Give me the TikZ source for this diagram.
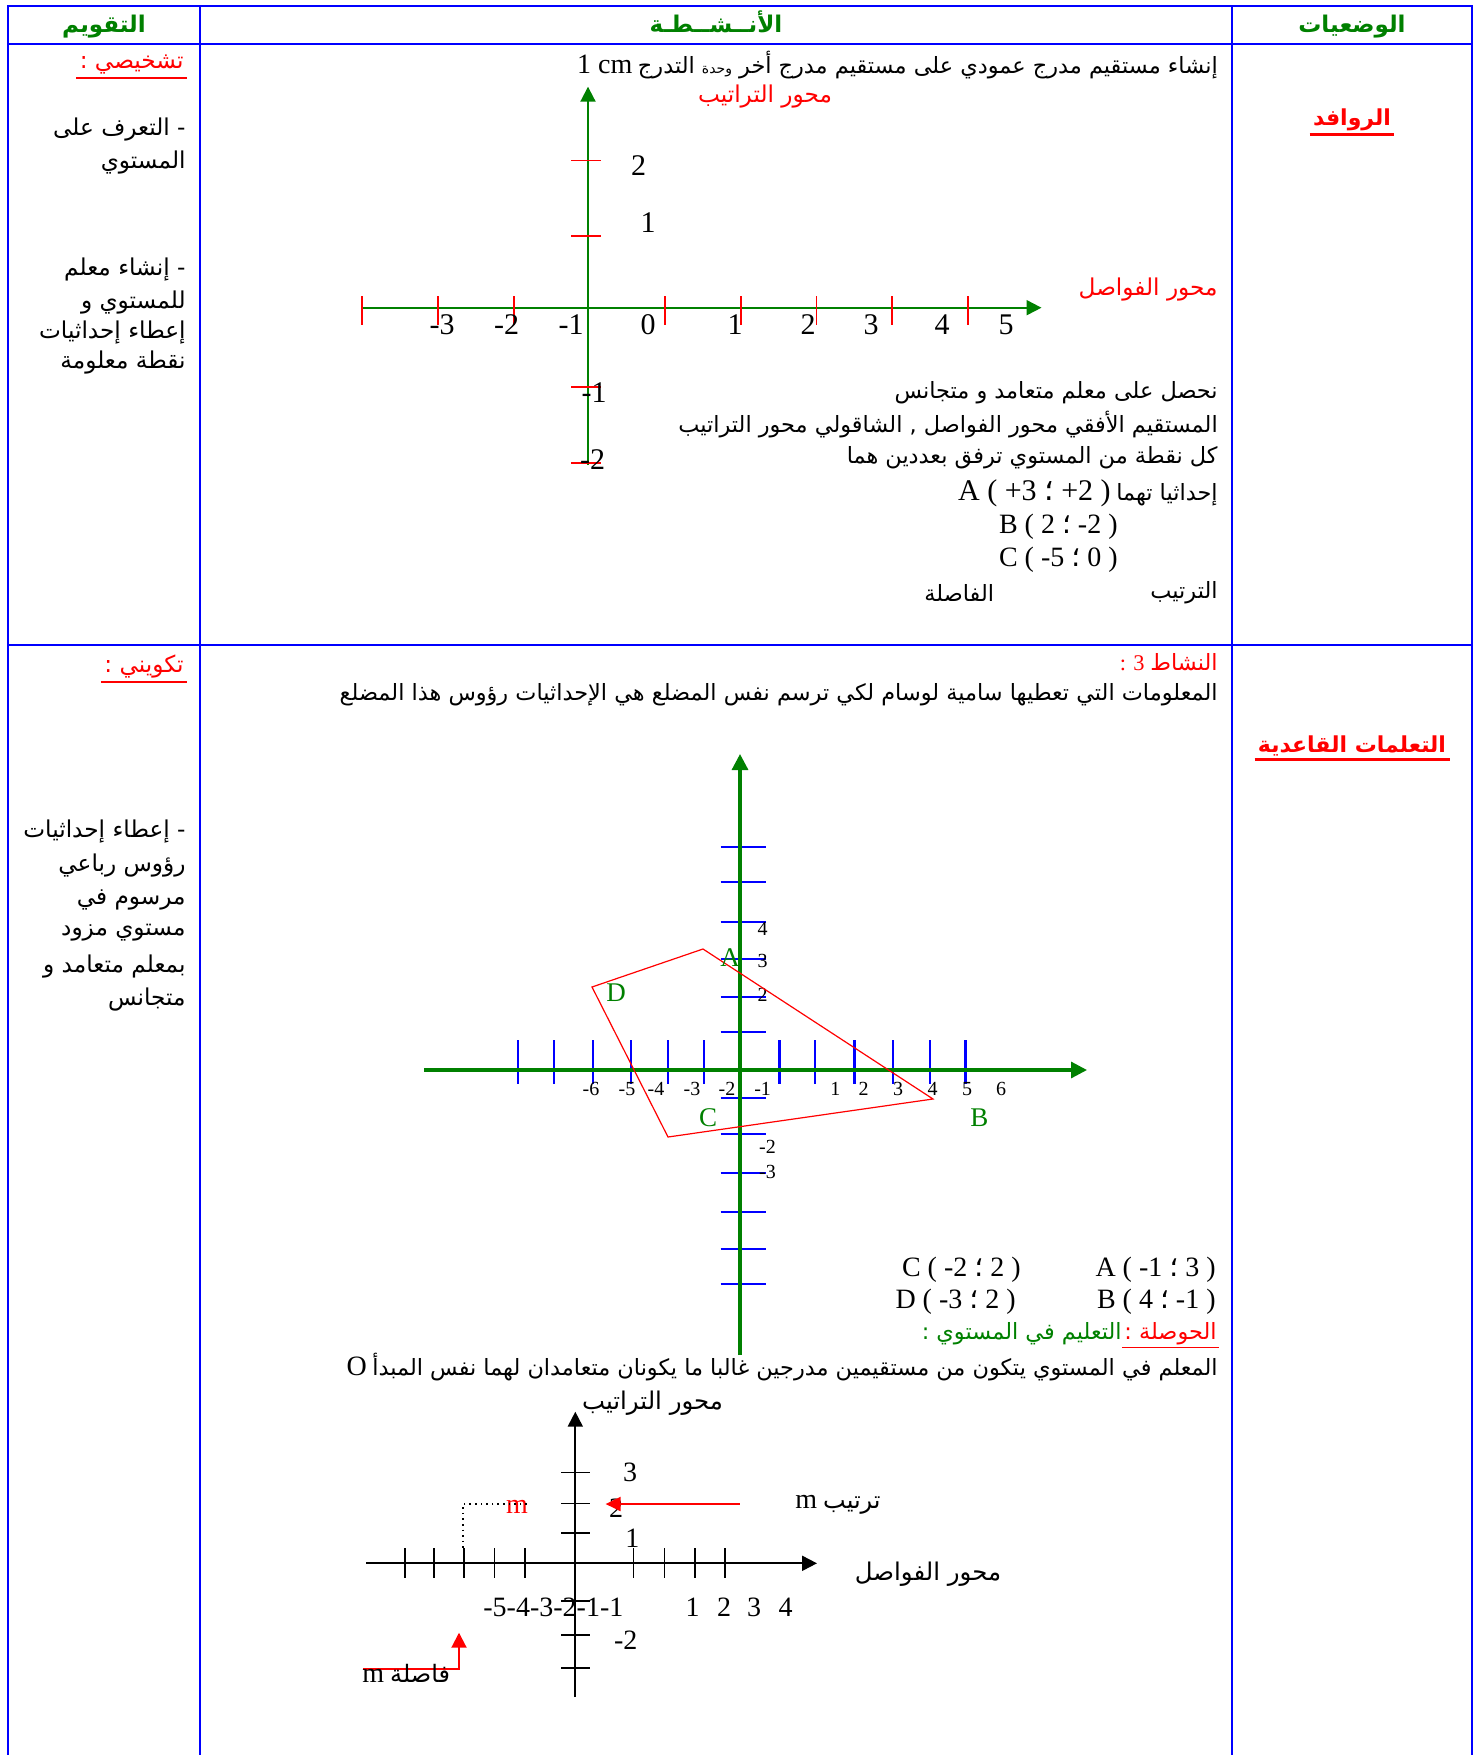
\documentclass[tikz,border=0pt]{standalone}
\usepackage{fontspec}
\setmainfont{Liberation Serif}
\newfontfamily\arabicfont[Script=Arabic]{DejaVu Sans}
\TeXXeTstate=1
\usepackage{tikz}
\usetikzlibrary{arrows.meta}
\definecolor{hdgreen}{RGB}{0,128,0}
\newcommand\artxt[1]{{\arabicfont\beginR #1\endR}}
\newcommand\semi{{\arabicfont ؛}}
\tikzset{
  grid/.style={draw=blue, line width=1pt},
  head/.style={font=\bfseries\fontsize{11.5}{14}\selectfont, text=hdgreen, inner sep=0pt},
  rline/.style={font=\fontsize{11.2}{14}\selectfont, anchor=east, inner sep=0pt},
  lline/.style={rline, anchor=west},
  lcol/.style={rline, font=\fontsize{11.6}{14}\selectfont},
  redttl/.style={font=\bfseries\fontsize{11}{14}\selectfont, text=red, inner sep=1.5pt},
  ul/.style={red, line width=0.8pt},
  numa/.style={font=\fontsize{15}{18}\selectfont, inner sep=0pt},
  numb/.style={font=\fontsize{10}{12}\selectfont, inner sep=0pt},
  numc/.style={font=\fontsize{14}{16}\selectfont, inner sep=0pt},
  pt/.style={font=\fontsize{13.5}{16}\selectfont, text=hdgreen, inner sep=0pt},
  gaxis/.style={hdgreen, line width=1pt, -{Triangle[length=7.5pt,width=7.5pt]}},
  gaxisb/.style={hdgreen, line width=1.6pt, -{Triangle[length=8pt,width=8pt]}},
  kaxis/.style={black, line width=1pt, -{Triangle[length=7.5pt,width=7.5pt]}},
  rtick/.style={red, line width=0.7pt},
  btick/.style={blue, line width=1.1pt},
  ktick/.style={black, line width=0.8pt}
}
\begin{document}
\begin{tikzpicture}[x=0.5pt, y=-0.5pt]
\useasboundingbox (0,0) rectangle (1482,1755);

% table
\draw[grid] (7.5,1755) -- (7.5,6) -- (1472,6) -- (1472,1755);
\draw[grid] (7.5,44.5) -- (1472,44.5);
\draw[grid] (7.5,644.5) -- (1472,644.5);
\draw[grid] (199.5,6) -- (199.5,1755);
\draw[grid] (1232,6) -- (1232,1755);

\node[head] (taqwim) at (104,27) {\artxt{التقويم}};
\node[head] (anshita) at (716,22) {\artxt{الأنــشــطـة}};
\node[head] (wadiyat) at (1352,27) {\artxt{الوضعيات}};

% left column
\node[lcol, text=red, inner sep=1.5pt] (tashkhis) at (187,65) {\artxt{تشخيصي :}};
\draw[ul] (tashkhis.south west) -- (tashkhis.south east);
\node[lcol] (l1) at (186,130) {\artxt{- التعرف على}};
\node[lcol] (l2) at (186,163) {\artxt{المستوي}};
\node[lcol] (l3) at (186,270) {\artxt{- إنشاء معلم}};
\node[lcol] (l4) at (186,303) {\artxt{للمستوي و}};
\node[lcol] (l5) at (186,333) {\artxt{إعطاء إحداثيات}};
\node[lcol] (l6) at (186,363) {\artxt{نقطة معلومة}};

\node[lcol, text=red, inner sep=1.5pt] (takwini) at (187,667) {\artxt{تكويني :}};
\draw[ul] (takwini.south west) -- (takwini.south east);
\node[lcol] (m1) at (186,832) {\artxt{- إعطاء إحداثيات}};
\node[lcol] (m2) at (186,866) {\artxt{رؤوس رباعي}};
\node[lcol] (m3) at (186,900) {\artxt{مرسوم في}};
\node[lcol] (m4) at (186,933) {\artxt{مستوي مزود}};
\node[lcol] (m5) at (186,967) {\artxt{بمعلم متعامد و}};
\node[lcol] (m6) at (186,1000) {\artxt{متجانس}};

% right column
\node[redttl] (rawafid) at (1352,120) {\artxt{الروافد}};
\draw[ul, line width=1.5pt] (rawafid.south west) -- (rawafid.south east);
\node[redttl] (taalumat) at (1352,746) {\artxt{التعلمات القاعدية}};
\draw[ul, line width=1.5pt] (taalumat.south west) -- (taalumat.south east);

% row 1 : first frame
\node[rline] (t1) at (1218,65) {{\fontsize{14}{16}\selectfont 1 cm} \artxt{إنشاء مستقيم مدرج عمودي على مستقيم مدرج أخر {\fontsize{7}{8}\selectfont وحدة} التدرج}};
\coordinate (g1l) at (362,307.7);
\coordinate (g1r) at (1041.5,307.7);
\coordinate (g1b) at (588,465);
\coordinate (g1t) at (588,86.7);
\draw[gaxis] (g1l) -- (g1r);
\draw[gaxis] (g1b) -- (g1t);
\foreach \x in {362,438,514,665,741,816.5,892,968}
  \draw[rtick] (\x,296) -- (\x,325);
\foreach \y in {160.7,236,387,463}
  \draw[rtick] (571,\y) -- (601,\y);
\foreach \x/\l [count=\i] in {442/-3,506.5/-2,571/-1,648/0,735/1,808/2,871/3,942/4,1006/5}
  \node[numa] (ga\i) at (\x,325) {\l};
\node[numa] (gy1) at (638.5,166) {2};
\node[numa] (gy2) at (648,223) {1};
\node[numa] (gy3) at (594,393) {-1};
\node[numa] (gy4) at (592.6,460) {-2};
\node[lcol, anchor=center, text=red] (mtr1) at (765,97) {\artxt{محور التراتيب}};
\node[lcol, text=red] (mfw1) at (1218,290) {\artxt{محور الفواصل}};

\node[rline] (t2) at (1218,393) {\artxt{نحصل على معلم متعامد و متجانس}};
\node[rline] (t3) at (1218,425) {\artxt{المستقيم الأفقي محور الفواصل , الشاقولي محور التراتيب}};
\node[rline] (t4) at (1218,458) {\artxt{كل نقطة من المستوي ترفق بعددين هما}};
\node[rline] (t5) at (1218,493) {{\fontsize{15}{18}\selectfont A ( +3 \semi{} +2 )} \artxt{إحداثيا تهما}};
\node[numc, anchor=east] (t6) at (1118,527) {B ( 2 \semi{} -2 )};
\node[numc, anchor=east] (t7) at (1118,560) {C ( -5 \semi{} 0 )};
\node[rline] (t8) at (1218,593) {\artxt{الترتيب}};
\node[rline] (t9) at (994.5,593) {\artxt{الفاصلة}};

% row 2 : second frame
\node[rline, text=red] (nashat) at (1218,662) {: 3 \artxt{النشاط}};
\node[rline] (s1) at (1218,695) {\artxt{المعلومات التي تعطيها سامية لوسام لكي ترسم نفس المضلع هي الإحداثيات رؤوس هذا المضلع}};
\coordinate (g2l) at (424,1070);
\coordinate (g2r) at (1087,1070);
\coordinate (g2b) at (740,1355);
\coordinate (g2t) at (740,754);
\foreach \x in {518,553.6,593,630.8,668,704,779.5,815,854.5,892.7,930,965.5}
  \draw[btick] (\x,1040) -- (\x,1084);
\foreach \y in {846.7,882,921.7,959,996.7,1032,1098,1134,1173,1212,1249,1284}
  \draw[btick] (720.5,\y) -- (765.6,\y);
\draw[gaxisb] (g2l) -- (g2r);
\draw[gaxisb] (g2b) -- (g2t);
\foreach \x/\l [count=\i] in {591/-6,627/-5,656/-4,692/-3,727/-2,762.6/-1,835.4/1,863.6/2,898/3,932.6/4,967/5,1001/6}
  \node[numb] (gb\i) at (\x,1089) {\l};
\node[numb] (gc1) at (762.6,929) {4};
\node[numb] (gc2) at (762.6,960.7) {3};
\node[numb] (gc3) at (762.6,995) {2};
\node[numb] (gc4) at (767.5,1146.7) {-2};
\node[numb] (gc5) at (767.5,1172) {-3};
\coordinate (pA) at (703,949);
\coordinate (pB) at (933,1099);
\coordinate (pC) at (668,1137);
\coordinate (pD) at (592,987);
\draw[red, line width=0.6pt] (pA) -- (pB) -- (pC) -- (pD) -- cycle;
\node[pt] (lA) at (730,958) {A};
\node[pt] (lD) at (616,993) {D};
\node[pt] (lC) at (708,1118) {C};
\node[pt] (lB) at (979.4,1118) {B};
\node[numc, anchor=east] (cA) at (1216,1270) {A ( -1 \semi{} 3 )};
\node[numc, anchor=east] (cC) at (1021,1270) {C ( -2 \semi{} 2 )};
\node[numc, anchor=east] (cB) at (1216,1302) {B ( 4 \semi{} -1 )};
\node[numc, anchor=east] (cD) at (1016,1302) {D ( -3 \semi{} 2 )};
\node[rline, text=red, inner sep=1pt] (hawsala) at (1219,1334) {\artxt{الحوصلة :}};
\draw[ul] (hawsala.south west) -- (hawsala.south east);
\node[rline, text=hdgreen] (taalim) at (hawsala.west) {\artxt{التعليم في المستوي :}\ };
\node[rline] (s2) at (1218,1367) {{\fontsize{14}{16}\selectfont O} \artxt{المعلم في المستوي يتكون من مستقيمين مدرجين غالبا ما يكونان متعامدان لهما نفس المبدأ}};

% row 2 : third frame
\coordinate (g3l) at (366,1563.3);
\coordinate (g3r) at (817,1563.3);
\coordinate (g3b) at (575.3,1697);
\coordinate (g3t) at (575.3,1411.7);
\draw[kaxis] (g3l) -- (g3r);
\draw[kaxis] (g3b) -- (g3t);
\foreach \x in {404.7,434,464,494.5,524.8,633.3,664.6,695,724.8}
  \draw[ktick] (\x,1548) -- (\x,1578);
\foreach \y in {1472.3,1503.3,1532.7,1601,1635,1667.7}
  \draw[ktick] (561,\y) -- (590,\y);
\node[rline, anchor=center, font=\fontsize{12.2}{14}\selectfont] (mtr3) at (652.5,1403) {\artxt{محور التراتيب}};
\node[rline, anchor=center, font=\fontsize{12.2}{14}\selectfont] (mfw3) at (928,1574) {\artxt{محور الفواصل}};
\node[numc] (gd1) at (630,1472) {3};
\node[numc] (gd2) at (616,1508) {2};
\node[numc] (gd3) at (632.4,1538) {1};
\node[numc] (gd4) at (625.7,1640) {-2};
\node[numc, anchor=west] (gd5) at (483,1607) {-5-4-3-2-1-1};
\foreach \x/\l [count=\i] in {692.7/1,724/2,754/3,785.5/4}
  \node[numc] (ge\i) at (\x,1607) {\l};
\node[numc, text=red] (mpt) at (517,1507) {m};
\coordinate (dm1) at (527,1504);
\coordinate (dm2) at (463,1504);
\coordinate (dm3) at (463,1548);
\draw[dotted, line width=0.8pt] (dm1) -- (dm2) -- (dm3);
\coordinate (ra1) at (739.5,1504);
\coordinate (ra2) at (605.6,1504);
\draw[red, line width=1pt, -{Triangle[length=7.5pt,width=7pt]}] (ra1) -- (ra2);
\node[lline, font=\fontsize{12}{14}\selectfont] (tartib) at (795,1505) {{\fontsize{14}{16}\selectfont m} \artxt{ترتيب}};
\coordinate (la1) at (363,1669.3);
\coordinate (la2) at (459,1669.3);
\coordinate (la3) at (459,1632.7);
\draw[red, line width=1pt, -{Triangle[length=7.5pt,width=7.5pt]}] (la1) -- (la2) -- (la3);
\node[lline, font=\fontsize{12}{14}\selectfont] (fasila) at (362,1673) {{\fontsize{14}{16}\selectfont m} \artxt{فاصلة}};
\end{tikzpicture}
\end{document}
